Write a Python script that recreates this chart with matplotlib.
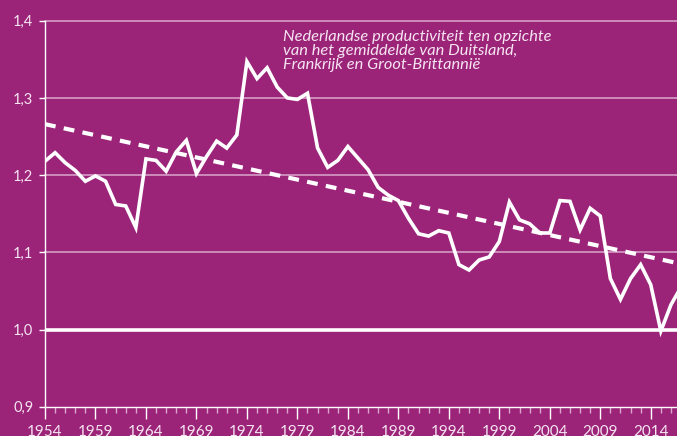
import numpy as np
import matplotlib.pyplot as plt
from matplotlib.ticker import FuncFormatter, MultipleLocator

# Data
years = list(range(1954, 2018))
productivity = [
    1.218, 1.229, 1.216, 1.206, 1.192, 1.199, 1.192, 1.162, 1.160, 1.132,
    1.221, 1.219, 1.205, 1.230, 1.245, 1.202, 1.224, 1.244, 1.235, 1.252,
    1.347, 1.325, 1.339, 1.314, 1.300, 1.298, 1.306, 1.235, 1.210, 1.219,
    1.237, 1.222, 1.207, 1.184, 1.174, 1.167, 1.144, 1.124, 1.121, 1.128,
    1.125, 1.084, 1.077, 1.090, 1.094, 1.114, 1.165, 1.142, 1.137, 1.125,
    1.125, 1.167, 1.166, 1.129, 1.157, 1.147, 1.066, 1.039, 1.066, 1.084,
    1.058, 0.998, 1.032, 1.055,
]
trend_years = [1954, 2017]
trend_values = [1.266, 1.085]

ytick_values = [0.9, 1.0, 1.1, 1.2, 1.3, 1.4]
xtick_years = list(range(1954, 2015, 5))

title = ("Nederlandse productiviteit ten opzichte\n"
         "van het gemiddelde van Duitsland,\n"
         "Frankrijk en Groot-Brittannië")

bg = "#9b2479"
grid_col = "#dba6cd"
text_col = "#f6e4f1"

plt.rcParams["font.family"] = ["Lato", "DejaVu Sans"]

fig = plt.figure(figsize=(6.77, 4.36), dpi=100, facecolor=bg)
ax = fig.add_axes([45 / 677, 29.3 / 436, (677 - 45) / 677, (406.7 - 20.7) / 436])
ax.set_facecolor(bg)

ax.set_xlim(1954, 2016.6)
ax.set_ylim(0.9, 1.4)

# horizontal grid
for v in ytick_values[1:]:
    ax.axhline(v, color=grid_col, lw=1.1, zorder=1, clip_on=False)
ax.axhline(1.0, color="white", lw=2.6, zorder=2)

# trend and series
ax.plot(trend_years, trend_values, color="white", lw=3.0,
        dashes=(2.6, 2.0), zorder=3)
ax.plot(years, productivity, color="white", lw=2.6,
        solid_joinstyle="miter", zorder=4)

for s in ["top", "right"]:
    ax.spines[s].set_visible(False)
ax.spines["left"].set_color("white")
ax.spines["left"].set_linewidth(1.0)
ax.spines["bottom"].set_color("white")
ax.spines["bottom"].set_linewidth(1.0)

ax.set_yticks(ytick_values)
ax.yaxis.set_major_formatter(FuncFormatter(lambda v, p: f"{v:.1f}".replace(".", ",")))
ax.tick_params(axis="y", colors="white", labelcolor=text_col, length=4.3,
               width=1.0, labelsize=10.5, pad=4)

ax.set_xticks(xtick_years)
ax.xaxis.set_minor_locator(MultipleLocator(1))
ax.tick_params(axis="x", which="major", colors="white", labelcolor=text_col,
               length=8.4, width=1.0, labelsize=11, pad=4.5)
ax.tick_params(axis="x", which="minor", colors=grid_col, length=4.3, width=1.0)

fig.text(283 / 677, 1 - 30 / 436, title, color=text_col, fontsize=11.8,
         style="italic", va="top", ha="left", linespacing=1.0)

fig.savefig("out.png", dpi=100, facecolor=bg)
